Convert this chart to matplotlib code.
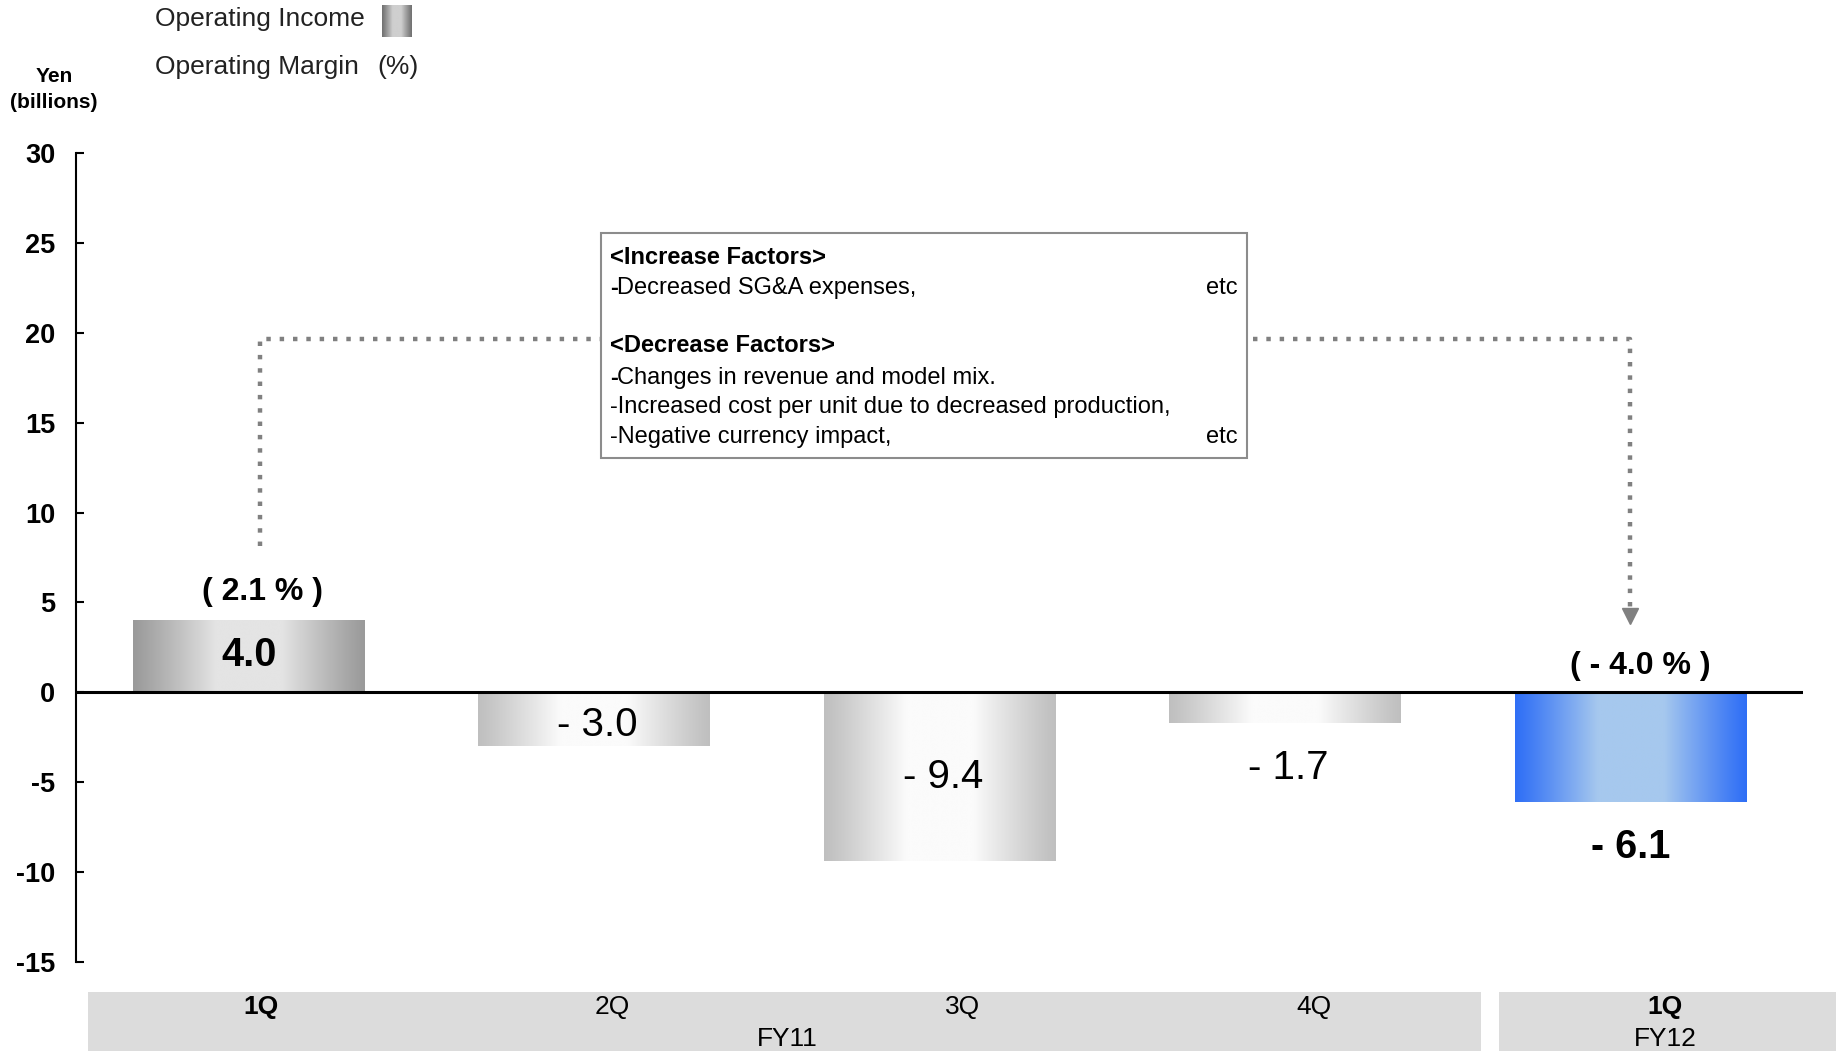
import numpy as np
import matplotlib.pyplot as plt
import matplotlib.transforms as mtransforms
from matplotlib.patches import Rectangle
from matplotlib.colors import to_rgb
from matplotlib import font_manager

# data
quarters = ['1Q', '2Q', '3Q', '4Q', '1Q']
fiscal_years = ['FY11', 'FY12']
income = [4.0, -3.0, -9.4, -1.7, -6.1]
income_text = ['4.0', '- 3.0', '- 9.4', '- 1.7', '- 6.1']
margin_text = ['( 2.1 % )', '', '', '', '( - 4.0 % )']
yticks = [30, 25, 20, 15, 10, 5, 0, -5, -10, -15]

increase_factors = ['Decreased SG&A expenses,']
decrease_factors = ['Changes in revenue and model mix.',
                    '-Increased cost per unit due to decreased production,',
                    '-Negative currency impact,']

names = {f.name for f in font_manager.fontManager.ttflist}
NARROW = 'Liberation Sans Narrow' if 'Liberation Sans Narrow' in names else 'Liberation Sans'
plt.rcParams['font.family'] = ['Liberation Sans', 'DejaVu Sans']
plt.rcParams['axes.unicode_minus'] = False

W, H = 1836, 1051
fig = plt.figure(figsize=(W / 100, H / 100), dpi=100)
# pixel transform, origin top-left
px = mtransforms.Affine2D().scale(1 / W, -1 / H).translate(0, 1) + fig.transFigure

ax = fig.add_axes([76 / W, 1 - 962 / H, (1803 - 76) / W, (962 - 153) / H])


def gradient(edge, center, n=256):
    t = np.linspace(0, 1, n)
    s = 1 - np.abs(2 * t - 1)
    f = np.clip(s * 1.4, 0, 1) ** 1.1
    e = np.array(to_rgb(edge))
    c = np.array(to_rgb(center))
    return (e + (c - e) * f[:, None])[None, :, :]


styles = [('#9a9a9a', '#e4e4e4'),
          ('#bfbfbf', '#fbfbfb'),
          ('#bfbfbf', '#fbfbfb'),
          ('#bfbfbf', '#fbfbfb'),
          ('#2f6ff6', '#a6c8ee')]
bar_w = 0.67
for i, v in enumerate(income):
    ax.imshow(gradient(*styles[i]), extent=(i - bar_w / 2, i + bar_w / 2, min(0, v), max(0, v)),
              aspect='auto', interpolation='bilinear', zorder=2)

ax.set_xlim(-0.5, 4.5)
ax.set_ylim(-15, 30)
ax.axhline(0, color='black', lw=2.2, zorder=3)

# value labels
label_y = [2.1, -1.8, -4.7, -4.2, -8.6]
label_bold = [True, False, False, False, True]
for i, v in enumerate(income):
    if label_bold[i]:
        ax.text(i, label_y[i], income_text[i], ha='center', va='center', fontsize=28.5,
                fontweight='bold', zorder=4)
    else:
        ax.text(i + 0.01, label_y[i], income_text[i], ha='center', va='center', fontsize=29,
                family=NARROW, zorder=4)
ax.text(0.04, 5.6, margin_text[0], ha='center', va='center', fontsize=23, fontweight='bold')
ax.text(4.03, 1.45, margin_text[4], ha='center', va='center', fontsize=23, fontweight='bold')

# connector
ax.plot([0.034, 0.034, 4.0, 4.0], [8.15, 19.65, 19.65, 4.7], color='#808080', lw=3.2,
        ls=(0, (1, 2)), dash_capstyle='butt', zorder=1)
ax.plot([4.0], [4.25], marker='v', ms=12, color='#808080', zorder=1)

# axes styling
for s in ['top', 'right', 'bottom']:
    ax.spines[s].set_visible(False)
ax.spines['left'].set_linewidth(1.5)
ax.set_xticks([])
ax.set_yticks(yticks)
ax.tick_params(axis='y', direction='in', length=6, width=1.5, pad=15, labelsize=19.5)
for lab in ax.get_yticklabels():
    lab.set_fontweight('bold')

# unit label
fig.text(54, 76, 'Yen', transform=px, ha='center', va='center', fontsize=15, fontweight='bold')
fig.text(54, 103, '(billions)', transform=px, ha='center', va='center', fontsize=15, fontweight='bold')

# legend
fig.text(155, 19, 'Operating Income', transform=px, ha='left', va='center', fontsize=19, color='#222222')
fig.text(155, 67, 'Operating Margin', transform=px, ha='left', va='center', fontsize=19, color='#222222')
fig.text(377, 67, '(%)', transform=px, ha='left', va='center', fontsize=19, color='#222222')
sw = fig.add_axes([382 / W, 1 - 37 / H, 30 / W, 32 / H])
sw.imshow(gradient('#707070', '#cfcfcf'), aspect='auto', interpolation='bilinear')
sw.axis('off')

# factor box
fs = 17
fig.patches.append(Rectangle((601, 233), 646, 225, transform=px, facecolor='white',
                             edgecolor='#8c8c8c', lw=1.5, zorder=5))
x0, xr = 610, 1238
fig.text(x0, 257, '<Increase Factors>', transform=px, va='center', fontsize=fs,
         fontweight='bold', family=NARROW, zorder=6)
fig.text(x0, 288, '-', transform=px, va='center', fontsize=fs, fontweight='bold', family=NARROW, zorder=6)
fig.text(x0 + 7, 288, increase_factors[0], transform=px, va='center', fontsize=fs, family=NARROW, zorder=6)
fig.text(xr, 288, 'etc', transform=px, ha='right', va='center', fontsize=fs, family=NARROW, zorder=6)
fig.text(x0, 346, '<Decrease Factors>', transform=px, va='center', fontsize=fs,
         fontweight='bold', family=NARROW, zorder=6)
fig.text(x0, 378, '-', transform=px, va='center', fontsize=fs, fontweight='bold', family=NARROW, zorder=6)
fig.text(x0 + 7, 378, decrease_factors[0], transform=px, va='center', fontsize=fs, family=NARROW, zorder=6)
fig.text(x0, 407, decrease_factors[1], transform=px, va='center', fontsize=fs, family=NARROW, zorder=6)
fig.text(x0, 437, decrease_factors[2], transform=px, va='center', fontsize=fs, family=NARROW, zorder=6)
fig.text(xr, 437, 'etc', transform=px, ha='right', va='center', fontsize=fs, family=NARROW, zorder=6)

# category band
fig.patches.append(Rectangle((88, 992), 1393, 70, transform=px, facecolor='#dcdcdc', lw=0, zorder=0))
fig.patches.append(Rectangle((1499, 992), 340, 70, transform=px, facecolor='#dcdcdc', lw=0, zorder=0))
cat_x = [261, 612, 963, 1314, 1665]
for i, q in enumerate(quarters):
    bold = i in (0, 4)
    fig.text(cat_x[i], 1007, q, transform=px, ha='center', va='center', fontsize=19,
             fontweight='bold' if bold else 'normal', family=NARROW)
fig.text(787, 1039, fiscal_years[0], transform=px, ha='center', va='center', fontsize=19, family=NARROW)
fig.text(1665, 1039, fiscal_years[1], transform=px, ha='center', va='center', fontsize=19, family=NARROW)

fig.savefig('out.png', dpi=100)
